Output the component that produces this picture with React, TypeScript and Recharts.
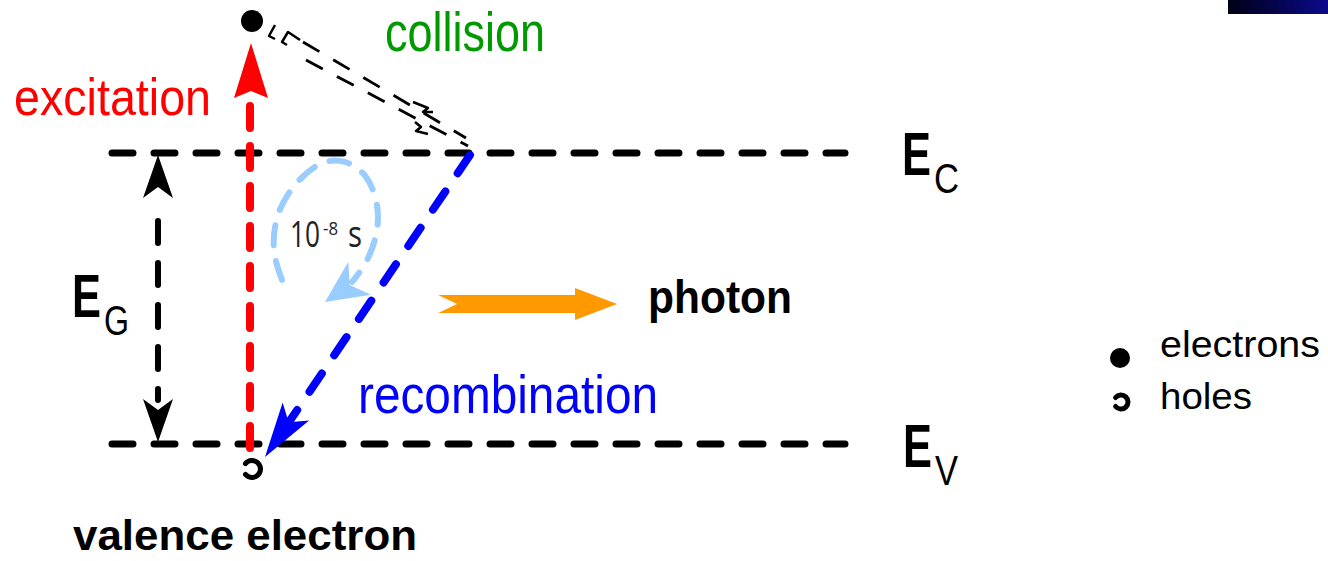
import React from 'react';
import { ComposedChart, Line, Scatter, XAxis, YAxis, ReferenceArea } from 'recharts';

type Pt = { x: number; y: number };

// diagram space: x and y (y grows downward, axis reversed)
const levelEc: Pt[] = [{ x: 112, y: 153 }, { x: 845, y: 153 }];
const levelEv: Pt[] = [{ x: 112, y: 444 }, { x: 845, y: 444 }];

const excitationPath: Pt[] = [{ x: 250, y: 448 }, { x: 250, y: 100 }];
const recombinationPath: Pt[] = [{ x: 470, y: 155 }, { x: 289, y: 422 }];
const gapPath: Pt[] = [{ x: 158, y: 221 }, { x: 158, y: 400 }];
const photonPath: Pt[] = [{ x: 437, y: 304 }, { x: 580, y: 304 }];

const lifetimeLoop: Pt[] = [
  { x: 282, y: 280 },
  { x: 274, y: 250 },
  { x: 278, y: 215 },
  { x: 295, y: 185 },
  { x: 320, y: 164 },
  { x: 345, y: 162 },
  { x: 366, y: 177 },
  { x: 377, y: 205 },
  { x: 376, y: 235 },
  { x: 366, y: 262 },
  { x: 352, y: 282 },
];

const collisionUpper: Pt[] = [{ x: 303, y: 42 }, { x: 466, y: 138 }];
const collisionLower: Pt[] = [{ x: 306, y: 60 }, { x: 468, y: 146 }];
const collisionBits: Pt[][] = [
  [{ x: 275, y: 25 }, { x: 269, y: 36 }, { x: 275, y: 39 }],
  [{ x: 300, y: 40 }, { x: 288, y: 32 }, { x: 282, y: 42 }, { x: 287, y: 45 }],
  [{ x: 413, y: 102 }, { x: 428, y: 108 }, { x: 423, y: 112 }, { x: 433, y: 112 }],
  [{ x: 415, y: 122 }, { x: 421, y: 127 }, { x: 416, y: 131 }, { x: 428, y: 134 }],
];

// arrow tips, with a point back along the shaft
const arrowHeads = [
  { name: 'excitation', x: 251, y: 43, fx: 251, fy: 100 },
  { name: 'recombination', x: 265, y: 457, fx: 470, fy: 155 },
  { name: 'gap', x: 158, y: 155, fx: 158, fy: 200 },
  { name: 'gap', x: 158, y: 442, fx: 158, fy: 400 },
  { name: 'lifetime', x: 325, y: 302, fx: 360, fy: 278 },
  { name: 'photon', x: 617, y: 304, fx: 437, fy: 304 },
  { name: 'photonTail', x: 457, y: 304, fx: 436, fy: 304 },
];

const electrons = [
  { name: 'excited', x: 252, y: 21 },
  { name: 'legend', x: 1120, y: 358 },
];
const holes = [
  { name: 'valence', x: 252, y: 469 },
  { name: 'legend', x: 1121, y: 402 },
];

const labels = [
  { id: 'excitation', text: 'excitation', x: 14, y: 115 },
  { id: 'collision', text: 'collision', x: 385, y: 51 },
  { id: 'recombination', text: 'recombination', x: 358, y: 413 },
  { id: 'photon', text: 'photon', x: 648, y: 313 },
  { id: 'level', text: 'E', sub: 'C', x: 902, y: 175 },
  { id: 'level', text: 'E', sub: 'V', x: 903, y: 467 },
  { id: 'level', text: 'E', sub: 'G', x: 72, y: 317 },
  { id: 'valence', text: 'valence electron', x: 73, y: 550 },
  { id: 'time', text: '10', sup: '-8', tail: 's', x: 290, y: 247 },
  { id: 'legend', text: 'electrons', x: 1160, y: 357 },
  { id: 'legend', text: 'holes', x: 1160, y: 409 },
];

const FONT = "'Liberation Sans Narrow', 'Liberation Sans', Arial, sans-serif";

const TEXT_STYLE: Record<string, { size: number; weight: number; fill: string; font?: string }> = {
  excitation: { size: 52, weight: 400, fill: '#ff0000' },
  collision: { size: 56, weight: 400, fill: '#009900' },
  recombination: { size: 54, weight: 400, fill: '#0000ff' },
  photon: { size: 46, weight: 700, fill: '#000' },
  level: { size: 62, weight: 700, fill: '#000' },
  valence: { size: 42, weight: 700, fill: '#000' },
  time: { size: 37, weight: 400, fill: '#222', font: "'Open Sans', sans-serif" },
  legend: { size: 37, weight: 400, fill: '#000' },
};

const TEXT_WIDTH: Record<string, number> = {
  excitation: 197,
  collision: 160,
  recombination: 300,
  photon: 144,
  E: 29,
  C: 25,
  V: 23,
  G: 25,
  'valence electron': 344,
  '10': 30,
  '-8': 15,
  s: 14,
  electrons: 160,
  holes: 92,
};

const HEAD_STYLE: Record<string, { fill: string; len: number; half: number; notch: number }> = {
  excitation: { fill: '#ff0000', len: 55, half: 17, notch: 7 },
  recombination: { fill: '#0000ff', len: 55, half: 16, notch: 13 },
  gap: { fill: '#000', len: 43, half: 15, notch: 11 },
  lifetime: { fill: '#99ccff', len: 42, half: 20, notch: 12 },
  photon: { fill: '#ff9900', len: 42, half: 16, notch: 0 },
  photonTail: { fill: '#fff', len: 21, half: 10, notch: 0 },
};

const PARTICLE_R: Record<string, number> = { excited: 11, legend: 10, valence: 9 };

function Head(props: any) {
  const { cx, cy, payload } = props;
  const s = HEAD_STYLE[payload.name];
  const a = Math.atan2(payload.fy - payload.y, payload.fx - payload.x);
  const ux = Math.cos(a);
  const uy = Math.sin(a);
  const bx = cx + ux * s.len;
  const by = cy + uy * s.len;
  const nx = cx + ux * (s.len - s.notch);
  const ny = cy + uy * (s.len - s.notch);
  const pts = [
    [cx, cy],
    [bx - uy * s.half, by + ux * s.half],
    [nx, ny],
    [bx + uy * s.half, by - ux * s.half],
  ]
    .map((p) => p.join(','))
    .join(' ');
  return <polygon points={pts} fill={s.fill} />;
}

function Electron(props: any) {
  const { cx, cy, payload } = props;
  return <circle cx={cx} cy={cy} r={PARTICLE_R[payload.name]} fill="#000" />;
}

function Hole(props: any) {
  const { cx, cy, payload } = props;
  const r = payload.name === 'legend' ? 7 : 8.5;
  const sx = cx - 0.77 * r;
  const top = cy - 0.64 * r;
  const bot = cy + 0.64 * r;
  return (
    <path
      d={`M${sx},${top} A${r},${r} 0 1 1 ${sx},${bot}`}
      fill="none"
      stroke="#000"
      strokeWidth={5}
      strokeLinecap="round"
    />
  );
}

function Label(props: any) {
  const { cx, cy, payload } = props;
  const s = TEXT_STYLE[payload.id];
  return (
    <text x={cx} y={cy} fontFamily={s.font ?? FONT} fontSize={s.size} fontWeight={s.weight} fill={s.fill}>
      <tspan textLength={TEXT_WIDTH[payload.text]} lengthAdjust="spacingAndGlyphs">
        {payload.text}
      </tspan>
      {payload.sub && (
        <tspan
          dx={3}
          dy={18}
          fontSize={43}
          fontWeight={400}
          textLength={TEXT_WIDTH[payload.sub]}
          lengthAdjust="spacingAndGlyphs"
        >
          {payload.sub}
        </tspan>
      )}
      {payload.sup && (
        <tspan dx={3} dy={-12} fontSize={19} textLength={TEXT_WIDTH[payload.sup]} lengthAdjust="spacingAndGlyphs">
          {payload.sup}
        </tspan>
      )}
      {payload.tail && (
        <tspan dx={10} dy={12} textLength={TEXT_WIDTH[payload.tail]} lengthAdjust="spacingAndGlyphs">
          {payload.tail}
        </tspan>
      )}
    </text>
  );
}

function path(
  key: string,
  data: Pt[],
  color: string,
  width: number,
  dash?: string,
  cap: 'round' | 'butt' = 'round',
  type: 'linear' | 'natural' = 'linear'
) {
  return (
    <Line
      key={key}
      data={data}
      dataKey="y"
      type={type}
      stroke={color}
      strokeWidth={width}
      strokeDasharray={dash}
      strokeLinecap={cap}
      strokeLinejoin="round"
      dot={false}
      activeDot={false}
      legendType="none"
      isAnimationActive={false}
    />
  );
}

export default function App() {
  return (
    <div style={{ position: 'absolute', left: 0, top: 0, width: 1328, height: 561, background: '#fff' }}>
      <ComposedChart width={1328} height={561} margin={{ top: 0, right: 0, bottom: 0, left: 0 }}>
        <defs>
          <linearGradient id="navy" x1="0" y1="0" x2="1" y2="0">
            <stop offset="0%" stopColor="#000014" />
            <stop offset="100%" stopColor="#0a0a8c" />
          </linearGradient>
        </defs>
        <XAxis type="number" dataKey="x" domain={[0, 1328]} hide allowDataOverflow />
        <YAxis type="number" dataKey="y" domain={[0, 561]} reversed hide allowDataOverflow />
        <ReferenceArea
          x1={1228}
          x2={1328}
          y1={0}
          y2={14}
          fill="url(#navy)"
          fillOpacity={1}
          stroke="none"
          ifOverflow="visible"
        />
        {path('ec', levelEc, '#000', 7, '21 21')}
        {path('ev', levelEv, '#000', 7, '21 21')}
        {path('gap', gapPath, '#000', 6, '22 20')}
        {path('collA', collisionUpper, '#000', 2.8, '19 16', 'butt')}
        {path('collB', collisionLower, '#000', 2.8, '19 16', 'butt')}
        {collisionBits.map((b, i) => path(`bit${i}`, b, '#000', 2.5, undefined, 'butt'))}
        {path('loop', lifetimeLoop, '#99ccff', 6, '20 16', 'round', 'natural')}
        {path('photon', photonPath, '#ff9900', 18, undefined, 'butt')}
        {path('exc', excitationPath, '#ff0000', 8, '22 18')}
        {path('rec', recombinationPath, '#0000ff', 8, '22 22')}
        <Scatter data={arrowHeads} shape={Head} isAnimationActive={false} legendType="none" />
        <Scatter data={electrons} shape={Electron} isAnimationActive={false} legendType="none" />
        <Scatter data={holes} shape={Hole} isAnimationActive={false} legendType="none" />
        <Scatter data={labels} shape={Label} isAnimationActive={false} legendType="none" />
      </ComposedChart>
    </div>
  );
}
